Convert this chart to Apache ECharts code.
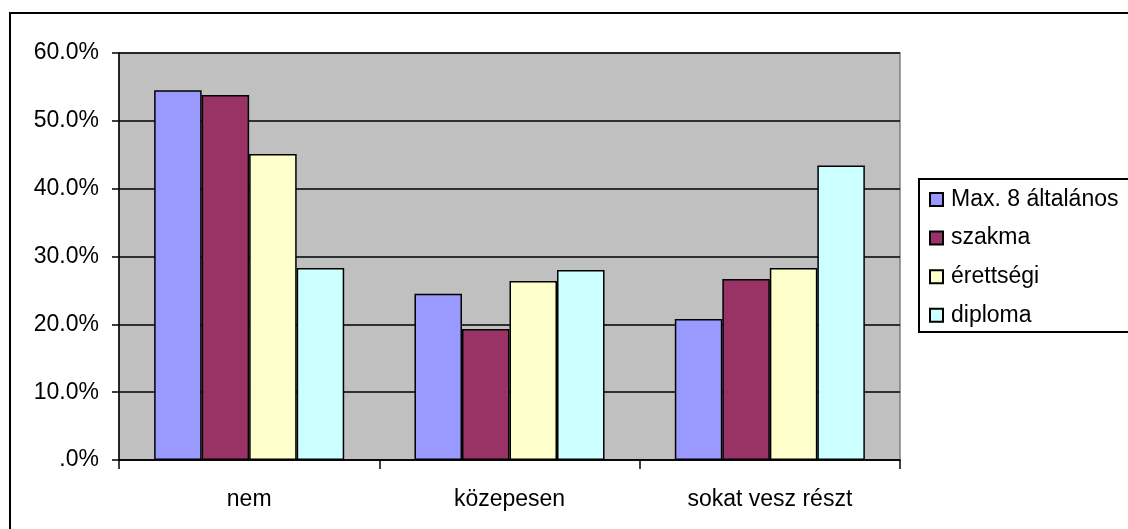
<!DOCTYPE html>
<html>
<head>
<meta charset="utf-8">
<script src="https://cdn.jsdelivr.net/npm/echarts@6/dist/echarts.min.js"></script>
<style>
  html, body { margin: 0; padding: 0; background: #fff; }
  #chart { width: 1128px; height: 529px; }
</style>
</head>
<body>
<div id="chart"></div>
<script>
const categories = ['nem', 'közepesen', 'sokat vesz részt'];
const seriesNames = ['Max. 8 általános', 'szakma', 'érettségi', 'diploma'];
const max8 = [54.5, 24.5, 20.8];
const szakma = [53.8, 19.3, 26.7];
const erettsegi = [45.1, 26.4, 28.3];
const diploma = [28.3, 28.0, 43.4];
const colors = ['#9999FF', '#993366', '#FFFFCC', '#CCFFFF'];

const font = '"Liberation Sans", Arial, sans-serif';
const chart = echarts.init(document.getElementById('chart'));

const option = {
  animation: false,
  textStyle: { fontFamily: font },
  grid: {
    left: 119,
    top: 53,
    right: 228,
    bottom: 69,
    show: true,
    backgroundColor: '#C0C0C0',
    borderColor: '#808080',
    borderWidth: 1.5
  },
  legend: {
    orient: 'vertical',
    left: 929,
    top: 188,
    padding: 0,
    itemWidth: 13,
    itemHeight: 13,
    itemGap: 15.6,
    icon: 'rect',
    textStyle: { fontSize: 23, color: '#000', fontFamily: font, lineHeight: 23, padding: [0, 0, 0, 3] },
    data: seriesNames
  },
  xAxis: {
    type: 'category',
    data: categories,
    axisLine: { lineStyle: { color: '#000', width: 1.5 } },
    axisTick: { show: true, length: 9, lineStyle: { color: '#000', width: 1.5 } },
    axisLabel: { color: '#000', fontSize: 23, margin: 28, fontFamily: font }
  },
  yAxis: {
    type: 'value',
    min: 0,
    max: 60,
    interval: 10,
    axisLine: { show: true, lineStyle: { color: '#000', width: 1.5 } },
    axisTick: { show: true, length: 7, lineStyle: { color: '#000', width: 1.5 } },
    axisLabel: {
      color: '#000',
      fontSize: 23,
      margin: 20,
      fontFamily: font,
      formatter: v => v === 0 ? '.0%' : v.toFixed(1) + '%'
    },
    splitLine: { lineStyle: { color: '#000', width: 1.5 } }
  },
  series: [max8, szakma, erettsegi, diploma].map((d, i) => ({
    name: seriesNames[i],
    type: 'bar',
    data: d,
    barGap: 0,
    barCategoryGap: '27%',
    itemStyle: { color: colors[i], borderColor: '#000', borderWidth: 1.5 }
  })),
  graphic: [
    {
      type: 'rect',
      shape: { x: 10, y: 13, width: 1200, height: 600 },
      style: { fill: 'none', stroke: '#000', lineWidth: 2 },
      silent: true
    },
    {
      type: 'rect',
      shape: { x: 919, y: 179, width: 300, height: 153 },
      style: { fill: 'none', stroke: '#000', lineWidth: 2 },
      silent: true
    }
  ]
};

chart.setOption(option);
</script>
</body>
</html>
